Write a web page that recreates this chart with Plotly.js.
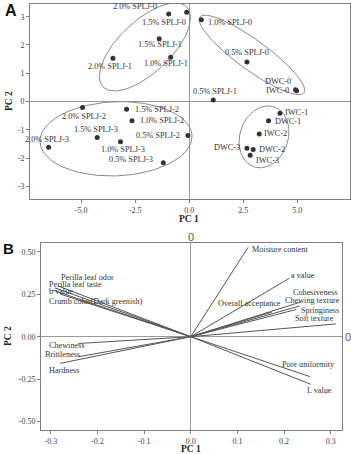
<!DOCTYPE html>
<html><head><meta charset="utf-8">
<script src="https://cdn.plot.ly/plotly-3.0.1.min.js"></script>
<style>html,body{margin:0;padding:0;background:#fff}#chart{width:351px;height:454px}</style>
</head><body><div id="chart"></div>
<script>
// ---------- Panel A data (PCA scores) ----------
const scoreLabels = ["2.0% SPLJ-0","1.5% SPLJ-0","1.0% SPLJ-0","1.5% SPLJ-1","2.0% SPLJ-1","1.0% SPLJ-1",
  "0.5% SPLJ-0","DWC-0","IWC-0","0.5% SPLJ-1","2.0% SPLJ-2","1.5% SPLJ-2","IWC-1","1.0% SPLJ-2","DWC-1",
  "IWC-2","0.5% SPLJ-2","1.5% SPLJ-3","2.0% SPLJ-3","1.0% SPLJ-3","DWC-3","DWC-2","IWC-3","0.5% SPLJ-3"];
const scorePC1 = [-0.95,-0.12,0.56,-1.39,-3.53,-0.86,2.67,4.92,4.97,1.11,-4.94,-2.90,4.20,-2.65,3.67,
  3.24,-0.06,-4.26,-6.51,-3.18,2.67,2.96,2.82,-1.20];
const scorePC2 = [3.10,3.16,2.89,2.22,1.53,1.57,1.40,0.42,0.38,0.05,-0.21,-0.27,-0.42,-0.68,-0.68,
  -1.15,-1.20,-1.27,-1.62,-1.42,-1.65,-1.70,-1.90,-2.17];
// label placement (anchor, xshift px, yshift px)
const scoreLabelPos = [["right",-10,7],["right",1,-10],["left",5,-3],["center",1,-6],["center",-3,-8],["center",-5,-6],
  ["center",0,9],["right",-3,8],["right",-6,0],["center",2,9],["center",1,-9],["left",6,0],["left",3,1],["left",6,0],["left",4,-1],
  ["left",3,0],["right",-6,0],["center",-1,8],["center",-2,8],["center",2,-8],["right",-5,1],["left",4,0],["left",4,-5],["right",-8,3]];
// group ellipses: center, half-axis vector u, half-axis vector v (data units)
const ellipseCenters = [[-2.05,1.93],[2.9,1.65],[-3.39,-1.32],[3.46,-1.25]];
const ellipseU = [[1.94,1.41],[2.41,-1.34],[3.52,0.11],[0.46,1.06]];
const ellipseV = [[0.83,-0.66],[0.41,0.43],[0.07,-1.31],[1.06,-0.27]];
const aXTickVals = [-5,-2.5,0,2.5,5];
const aXTickText = ["-5.0","-2.5","0.0","2.5","5.0"];
const aYTickVals = [3,2,1,0,-1,-2,-3];
const aYTickText = ["3","2","1","0","-1","-2","-3"];

// ---------- Panel B data (loadings) ----------
const loadLabels = ["Moisture content","a value","Cohesiveness","Chewing texture","Overall acceptance","Springiness",
  "Soft texture","Perilla leaf odor","Perilla leaf taste","b value","Crumb color(Dark greenish)","Chewiness",
  "Brittleness","Hardness","Pore uniformity","L value"];
const loadPC1 = [0.123,0.211,0.236,0.234,0.174,0.226,0.311,-0.284,-0.291,-0.297,-0.280,-0.241,-0.241,-0.280,0.256,0.257];
const loadPC2 = [0.526,0.343,0.204,0.181,0.145,0.160,0.075,0.298,0.287,0.275,0.251,-0.040,-0.118,-0.157,-0.235,-0.280];
const loadLabelPos = [["left",2,-2],["left",0,3],["left",-10,10],["left",-17,5],["right",11,9],["left",3,-1],
  ["right",0,5],["left",1,9],["left",-8,3],["left",-5,-2],["left",-13,-7],["left",-31,-2],["left",-35,2],["left",-13,-7],
  ["right",27,12],["right",23,-6]];
const bXTickVals = [-0.3,-0.2,-0.1,0,0.1,0.2,0.3];
const bXTickText = ["-0.3","-0.2","-0.1","0.0","0.1","0.2","0.3"];
const bYTickVals = [0.5,0.25,0,-0.25,-0.5];
const bYTickText = ["0.50","0.25","0.00","-0.25","-0.50"];

// ---------- build ----------
const W = 351, H = 454;
const px = x => x / W, py = y => 1 - y / H;
const serif = "Liberation Serif, Times New Roman, serif";
const sans = "Liberation Sans, Arial, sans-serif";
const txtCol = "#333333";
const traces = [];

// ellipses
ellipseCenters.forEach((c, i) => {
  const xs = [], ys = [];
  for (let k = 0; k <= 120; k++) {
    const t = 2 * Math.PI * k / 120;
    xs.push(c[0] + ellipseU[i][0] * Math.cos(t) + ellipseV[i][0] * Math.sin(t));
    ys.push(c[1] + ellipseU[i][1] * Math.cos(t) + ellipseV[i][1] * Math.sin(t));
  }
  traces.push({type: "scatter", mode: "lines", x: xs, y: ys, xaxis: "x", yaxis: "y",
    line: {color: "#8a8a8a", width: 1}, hoverinfo: "skip", showlegend: false});
});
traces.push({type: "scatter", mode: "markers", x: scorePC1, y: scorePC2, xaxis: "x", yaxis: "y",
  marker: {color: "#333333", size: 5}, showlegend: false, cliponaxis: false});

// loadings vectors
const vx = [], vy = [];
loadPC1.forEach((v, i) => { vx.push(0, v, null); vy.push(0, loadPC2[i], null); });
traces.push({type: "scatter", mode: "lines", x: vx, y: vy, xaxis: "x2", yaxis: "y2",
  line: {color: "#555555", width: 1}, showlegend: false, connectgaps: false});

const annotations = [];
scoreLabels.forEach((t, i) => {
  const p = scoreLabelPos[i];
  annotations.push({text: t, x: scorePC1[i], y: scorePC2[i], xref: "x", yref: "y", showarrow: false,
    xanchor: p[0], yanchor: "middle", xshift: p[1], yshift: p[2],
    font: {family: serif, size: 8.3, color: txtCol}});
});
loadLabels.forEach((t, i) => {
  const p = loadLabelPos[i];
  annotations.push({text: t, x: loadPC1[i], y: loadPC2[i], xref: "x2", yref: "y2", showarrow: false,
    xanchor: p[0], yanchor: "middle", xshift: p[1], yshift: p[2],
    font: {family: serif, size: 8.2, color: txtCol}});
});
function paperText(t, x, y, font, extra) {
  annotations.push(Object.assign({text: t, x: px(x), y: py(y), xref: "paper", yref: "paper", showarrow: false,
    xanchor: "center", yanchor: "middle", font: font}, extra || {}));
}
const bold = {family: serif, size: 9.5, color: "#222222"};
paperText("<b>PC 1</b>", 189, 219, bold);
paperText("<b>PC 2</b>", 9, 101, bold, {textangle: -90});
paperText("<b>PC 1</b>", 190.7, 448.5, bold);
paperText("<b>PC 2</b>", 8, 336, bold, {textangle: -90});
paperText("<b>A</b>", 11, 11, {family: sans, size: 16, color: "#111111"});
paperText("<b>B</b>", 8, 248, {family: sans, size: 15, color: "#111111"});
paperText("0", 190.7, 237, {family: sans, size: 11, color: "#555555"});
paperText("0", 347.5, 336.7, {family: sans, size: 11, color: "#555555"});

const axBase = {showgrid: false, showline: true, mirror: true, linecolor: "#808080", linewidth: 1,
  ticks: "outside", ticklen: 3, tickcolor: "#808080", zeroline: true, zerolinecolor: "#9a9a9a", zerolinewidth: 1,
  tickfont: {family: serif, size: 8, color: "#444444"}, tickmode: "array", fixedrange: true};

const layout = {
  width: W, height: H, margin: {l: 0, r: 0, t: 0, b: 0}, paper_bgcolor: "#ffffff", plot_bgcolor: "#ffffff",
  showlegend: false,
  xaxis: Object.assign({}, axBase, {domain: [px(30), px(350)], range: [-7.37, 7.44], anchor: "y",
    tickvals: aXTickVals, ticktext: aXTickText}),
  yaxis: Object.assign({}, axBase, {domain: [py(199), py(4)], range: [-3.45, 3.45], anchor: "x",
    tickvals: aYTickVals, ticktext: aYTickText}),
  xaxis2: Object.assign({}, axBase, {domain: [px(41), px(341.7)], range: [-0.321, 0.3236], anchor: "y2",
    tickvals: bXTickVals, ticktext: bXTickText}),
  yaxis2: Object.assign({}, axBase, {domain: [py(430), py(242.7)], range: [-0.549, 0.553], anchor: "x2",
    tickvals: bYTickVals, ticktext: bYTickText}),
  annotations: annotations
};
Plotly.newPlot("chart", traces, layout, {displayModeBar: false, staticPlot: true});
</script></body></html>
